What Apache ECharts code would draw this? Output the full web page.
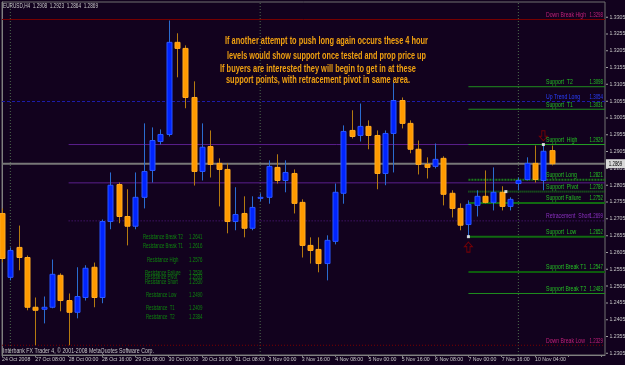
<!DOCTYPE html>
<html><head><meta charset="utf-8">
<script src="https://cdn.jsdelivr.net/npm/echarts@6/dist/echarts.min.js"></script>
<style>html,body{margin:0;padding:0;background:#12021e;}#c{width:625px;height:365px;}</style>
</head><body><div id="c"></div>
<script>
// ---- data ----
const tickLabels = ['24 Oct 2008','27 Oct 08:00','28 Oct 00:00','28 Oct 16:00','29 Oct 08:00','30 Oct 00:00','30 Oct 16:00','31 Oct 08:00','3 Nov 00:00','3 Nov 16:00','4 Nov 08:00','5 Nov 00:00','5 Nov 16:00','6 Nov 08:00','7 Nov 00:00','7 Nov 16:00','10 Nov 04:00'];
const priceTickLabels = ['1.2305','1.2355','1.2405','1.2455','1.2505','1.2555','1.2605','1.2655','1.2705','1.2755','1.2805','1.2855','1.2905','1.2955','1.3005','1.3055','1.3105','1.3155','1.3205','1.3255','1.3305'];
const opens  = [1.2721,1.2531,1.2620,1.2590,1.2442,1.2436,1.2442,1.2537,1.2462,1.2427,1.2471,1.2561,1.2471,1.2697,1.2807,1.2712,1.2683,1.2769,1.2849,1.2935,1.2956,1.3230,1.3212,1.3066,1.2846,1.2920,1.2870,1.2852,1.2697,1.2721,1.2677,1.2768,1.2769,1.2858,1.2819,1.2840,1.2754,1.2626,1.2614,1.2572,1.2638,1.2781,1.2968,1.2953,1.2980,1.2953,1.2840,1.2959,1.3057,1.2989,1.2912,1.2867,1.2861,1.2885,1.2781,1.2736,1.2688,1.2745,1.2772,1.2754,1.2784,1.2742,1.2810,1.2822,1.2870,1.2819,1.2908];
const highs  = [1.2736,1.2620,1.2685,1.2596,1.2471,1.2474,1.2584,1.2543,1.2483,1.2561,1.2567,1.2575,1.2703,1.2843,1.2813,1.2793,1.2843,1.2989,1.2977,1.2971,1.3295,1.3257,1.3221,1.3114,1.2989,1.2968,1.2885,1.2870,1.2799,1.2772,1.2772,1.2781,1.2879,1.2897,1.2879,1.2852,1.2763,1.2650,1.2650,1.2656,1.2810,1.2983,1.3028,1.3048,1.2998,1.2968,1.2968,1.3111,1.3066,1.2998,1.2938,1.2888,1.2929,1.2891,1.2790,1.2751,1.2760,1.2790,1.2849,1.2858,1.2802,1.2769,1.2828,1.2888,1.2923,1.2926,1.2923];
const lows   = [1.2576,1.2522,1.2552,1.2433,1.2329,1.2394,1.2439,1.2430,1.2329,1.2409,1.2462,1.2442,1.2454,1.2674,1.2692,1.2626,1.2674,1.2736,1.2813,1.2926,1.2950,1.3126,1.3034,1.2804,1.2819,1.2828,1.2742,1.2662,1.2671,1.2650,1.2671,1.2757,1.2750,1.2810,1.2784,1.2721,1.2590,1.2572,1.2546,1.2522,1.2629,1.2750,1.2944,1.2935,1.2912,1.2793,1.2805,1.2843,1.2974,1.2900,1.2837,1.2825,1.2855,1.2745,1.2709,1.2671,1.2652,1.2712,1.2751,1.2730,1.2730,1.2730,1.2790,1.2819,1.2813,1.2790,1.2864];
const closes = [1.2587,1.2611,1.2590,1.2442,1.2433,1.2442,1.2540,1.2462,1.2427,1.2474,1.2558,1.2471,1.2697,1.2805,1.2712,1.2683,1.2769,1.2846,1.2938,1.2956,1.3230,1.3212,1.3066,1.2846,1.2918,1.2867,1.2852,1.2697,1.2718,1.2677,1.2739,1.2769,1.2861,1.2819,1.2843,1.2751,1.2626,1.2611,1.2572,1.2641,1.2784,1.2965,1.2950,1.2980,1.2953,1.2840,1.2959,1.3057,1.2989,1.2912,1.2867,1.2858,1.2882,1.2778,1.2736,1.2686,1.2748,1.2772,1.2754,1.2784,1.2742,1.2763,1.2819,1.2870,1.2822,1.2906,1.2869];
const levelNames  = ['Down Break High','Support  T2','Up Trend Long','Support  T1','Support  High','Support Long','Support  Pivot','Support Failure','Retracement  Short','Support  Low','Support Break T1','Support Break T2','Down Break Low'];
const levelValues = [1.3298,1.3098,1.3054,1.3031,1.2926,1.2821,1.2786,1.2752,1.2699,1.2652,1.2547,1.2483,1.2329];
const purpleLevels = [1.2926,1.2812];
const currentPrice = 1.2869;
const separatorBars = [1,31,62];
const dotX = [56,60.5,65];
const dotY = [1.2652,1.2786,1.2926];
const arrowUp = [56,1.2621];
const arrowDown = [65,1.2952];
const resNames  = ['Resistance Break T2','Resistance Break T1','Resistance High','Resistance Failure','Resistance Pivot','Resistance Short','Resistance Low','Resistance  T1','Resistance  T2'];
const resValues = ['1.2641','1.2616','1.2576','1.2536','1.2533','1.2530','1.2490','1.2409','1.2384'];
const noteLines = ['If another attempt to push long again occurs these 4 hour','levels would show support once tested and prop price up','If buyers are interested they will begin to get in at these','support points, with retracement pivot in same area.'];
const titleText = 'EURUSD,H4  1.2908  1.2923  1.2864  1.2869';
const copyText = 'Interbank FX Trader 4, \u00a9 2001-2008 MetaQuotes Software Corp.';

// ---- styles ----
const X_MAX = 72.4;
const FONT = "'Liberation Sans',sans-serif";
const levelStyles = [
  {from:0, color:'#7a0000', type:'solid', width:1, text:'#c0207a'},
  {from:56,color:'#1f8f1f', type:'solid', width:1, text:'#24c024'},
  {from:0, color:'#1c1ca8', type:[3,2], width:1, text:'#2a40ff'},
  {from:56,color:'#1f8f1f', type:'solid', width:1, text:'#24c024'},
  {from:56,color:'#22a022', type:'solid', width:1, text:'#24c024'},
  {from:56,color:'#1a7a1a', type:[2,1], width:2, text:'#24c024'},
  {from:56,color:'#1a7a1a', type:[1,1], width:2, text:'#24c024'},
  {from:56,color:'#116a11', type:'solid', width:2, text:'#24c024'},
  {from:8, color:'#5a1e8c', type:[1,2], width:1, text:'#8a30c0'},
  {from:56,color:'#116a11', type:'solid', width:2, text:'#24c024'},
  {from:56,color:'#0d5c0d', type:'solid', width:2, text:'#24c024'},
  {from:56,color:'#1f8f1f', type:'solid', width:1, text:'#24c024'},
  {from:0, color:'#7a0000', type:[1,2], width:1, text:'#c0207a'}
];

const candleData = opens.map((o,i)=>[i,o,highs[i],lows[i],closes[i]]);
function renderItem(params, api){
  const x=api.value(0), o=api.value(1), h=api.value(2), l=api.value(3), c=api.value(4);
  const pO=api.coord([x,o]), pC=api.coord([x,c]), pH=api.coord([x,h]), pL=api.coord([x,l]);
  const up = c>=o;
  const cx = Math.round(pO[0])+0.5;
  const top=Math.min(pO[1],pC[1]), bot=Math.max(pO[1],pC[1]);
  return {type:'group', children:[
    {type:'line', shape:{x1:cx,y1:pH[1],x2:cx,y2:pL[1]}, style:{stroke: up?'#2a6cd0':'#b47a10', lineWidth:1}},
    {type:'rect', shape:{x:cx-2.5,y:top,width:5,height:Math.max(1,bot-top)}, style:{fill: up?'#0024ff':'#ff9a00', stroke: up?'#2a56ff':'#ffaa20', lineWidth:1}}
  ]};
}

const series = [];
separatorBars.forEach(b=>series.push({type:'line', data:[[b,1.2300],[b,1.3350]], symbol:'none', silent:true, animation:false, z:1,
  lineStyle:{color:'#4d6b4d', width:1, type:[1,2]}}));
purpleLevels.forEach(v=>series.push({type:'line', data:[[8,v],[X_MAX,v]], symbol:'none', silent:true, animation:false, z:1,
  lineStyle:{color:'#5a1e8c', width:1}}));
series.push({type:'line', data:[[0,currentPrice],[X_MAX,currentPrice]], symbol:'none', silent:true, animation:false, z:1,
  lineStyle:{color:'#777777', width:2}});
levelValues.forEach((v,i)=>{const s=levelStyles[i]; series.push({type:'line', data:[[s.from,v],[X_MAX,v]], symbol:'none', silent:true, animation:false, z:2,
  lineStyle:{color:s.color, width:s.width, type:s.type}});});
series.push({type:'custom', renderItem, data:candleData, encode:{x:0,y:[1,2,3,4]}, z:5, animation:false, silent:true});
series.push({type:'scatter', data:dotX.map((x,i)=>[x,dotY[i]]), symbol:'rect', symbolSize:3, itemStyle:{color:'#ffffff'}, z:6, silent:true, animation:false});
const upPath='path://M5,0 L10,5 L7,5 L7,11 L3,11 L3,5 L0,5 Z';
const downPath='path://M3,0 L7,0 L7,6 L10,6 L5,11 L0,6 L3,6 Z';
series.push({type:'scatter', data:[arrowUp], symbol:upPath, symbolSize:[8,10], itemStyle:{color:'rgba(0,0,0,0)', borderColor:'#8a0000', borderWidth:1}, z:6, silent:true, animation:false});
series.push({type:'scatter', data:[arrowDown], symbol:downPath, symbolSize:[8,10], itemStyle:{color:'rgba(0,0,0,0)', borderColor:'#8a0000', borderWidth:1}, z:6, silent:true, animation:false});

const chart = echarts.init(document.getElementById('c'), null, {renderer:'canvas', width:625, height:365});
chart.setOption({
  backgroundColor:'#12021e',
  animation:false,
  grid:{left:2,right:20,top:2,bottom:10,show:true,borderColor:'#707070',borderWidth:1,containLabel:false,outerBoundsMode:'none'},
  xAxis:{type:'value', min:0, max:X_MAX, interval:4,
    axisLine:{show:true,lineStyle:{color:'#808080'}},
    axisTick:{show:true,length:2,lineStyle:{color:'#808080'}},
    splitLine:{show:false},
    axisLabel:{align:'left', margin:2, color:'#c8c8c8', fontSize:5.2, fontFamily:FONT, showMinLabel:true, showMaxLabel:false, hideOverlap:false,
      formatter:v=>{const k=Math.round(v/4); return Math.abs(v-k*4)<1e-6 && tickLabels[k] ? tickLabels[k] : '';}}},
  yAxis:{type:'value', position:'right', min:1.2300, max:1.3350, interval:0.0005,
    axisLine:{show:true,lineStyle:{color:'#808080'}},
    axisTick:{show:false}, splitLine:{show:false},
    axisLabel:{margin:1, color:'#c8c8c8', fontSize:5.2, fontFamily:FONT, showMinLabel:true, showMaxLabel:true, hideOverlap:false,
      formatter:v=>{const s=v.toFixed(4); return priceTickLabels.indexOf(s)>=0 ? '{t|} '+s : '';},
      rich:{t:{width:2,height:1,backgroundColor:'#a0a0a0'}}}},
  series
});

// ---- texts ----
const mctx=document.createElement('canvas').getContext('2d');
function measure(str,font){mctx.font=font;return mctx.measureText(str).width;}
function textEl(str,x,y,o){
  const font=(o.weight||'normal')+' '+o.size+'px '+o.family;
  let sx=o.scale||1;
  if(o.width) sx=o.width/measure(str,font);
  return {type:'text', x, y, scaleX:sx, z:100, silent:true,
    style:{text:str, x:0, y:0, fill:o.color, font, align:o.align||'left', verticalAlign:o.va||'middle'}};
}
const px=(x,y)=>chart.convertToPixel({gridIndex:0},[x,y]);
const g=[];
const noteX=[225,227,220,226], noteY=[41.7,56,69,80], noteW=[203,199,196,184];
noteLines.forEach((t,i)=>g.push(textEl(t,noteX[i],noteY[i],{size:10,weight:'bold',family:FONT,color:'#f0a010',width:noteW[i]})));
g.push(textEl(titleText,3,6,{size:6.5,family:FONT,color:'#c8c8c8',width:95}));
g.push(textEl(copyText,3,351.5,{size:6.5,family:FONT,color:'#c8c8c8',width:151}));
const nameFont="normal 6.5px "+FONT;
const nameScale=40/measure('Down Break High',nameFont);
const valScale=13.5/measure('1.3298',nameFont);
levelValues.forEach((v,i)=>{
  const y=px(0,v)[1];
  const c=levelStyles[i].text;
  g.push(textEl(levelNames[i],546,y-1,{size:6.5,family:FONT,color:c,scale:nameScale,va:'bottom'}));
  g.push(textEl(v.toFixed(4),603,y-1,{size:6.5,family:FONT,color:c,scale:valScale,va:'bottom',align:'right'}));
});
const resY=[237,246.7,260,273.3,277.7,282.3,295,308.3,317.3];
const resX=[143,143,147,145,145,145,146,146,146];
const resScale=40/measure('Resistance Break T2',nameFont);
resNames.forEach((n,i)=>{
  g.push(textEl(n,resX[i],resY[i],{size:6.5,family:FONT,color:'#0e860e',scale:resScale}));
  g.push(textEl(resValues[i],189,resY[i],{size:6.5,family:FONT,color:'#0e860e',scale:valScale}));
});
const cy=px(0,currentPrice)[1];
g.push({type:'rect', shape:{x:606,y:cy-4.5,width:19,height:9}, style:{fill:'#d8d8d8'}, z:99, silent:true});
g.push(textEl(currentPrice.toFixed(4),615.5,cy,{size:6.5,family:FONT,color:'#000000',scale:valScale,align:'center'}));
chart.setOption({graphic:g});
</script></body></html>
